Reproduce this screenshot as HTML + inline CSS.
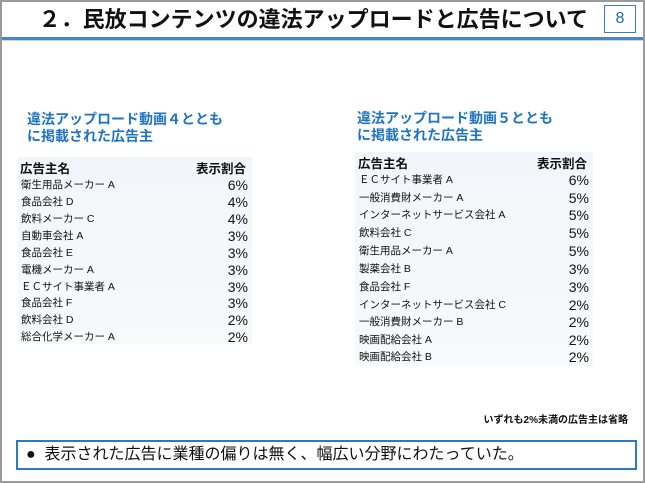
<!DOCTYPE html>
<html><head><meta charset="utf-8"><style>
body{margin:0;width:645px;height:483px;overflow:hidden;background:#fff;font-family:"Liberation Sans","Noto Sans CJK JP",sans-serif;position:relative}
.frame{position:absolute;left:0;top:0;width:641px;height:479px;border:2px solid #9a9a9a}
.title{position:absolute;left:0;top:6px;width:588px;text-align:right;font-size:22px;font-weight:bold;color:#111;line-height:28px}
.num{position:absolute;left:604px;top:5px;width:30px;height:26px;border:1.5px solid #3a7ec0;color:#2565a8;font-size:16px;text-align:center;line-height:26px}
.hl{position:absolute;left:2px;top:37px;width:641px;height:3px;background:#4a86bf}
.hl2{position:absolute;left:2px;top:40px;width:641px;height:1px;background:#c8d8e8}
.h{position:absolute;color:#1f73c4;font-weight:bold;font-size:14px;line-height:17px}
.tb{position:absolute;background:linear-gradient(#f2f6fa,#f7f9fb)}
.r{position:absolute;left:0;right:0;font-size:10.5px;color:#111}
.r span{position:absolute;right:4px;font-size:14px}
.r.hd{font-weight:bold;font-size:12.5px}
.r.hd span{font-size:12.5px;right:6px}
.note{position:absolute;right:17px;top:411px;font-size:10px;font-weight:bold;color:#111}
.box{position:absolute;left:16px;top:440px;width:609px;height:26px;border:2px solid #2b7bc4;font-size:16px;line-height:26px;color:#111;padding-left:8px}
</style></head><body>
<div class="frame"></div>
<div class="title">２．民放コンテンツの違法アップロードと広告について</div>
<div class="num">8</div>
<div class="hl"></div><div class="hl2"></div>
<div class="h" style="left:27px;top:111px">違法アップロード動画４ととも<br>に掲載された広告主</div>
<div class="h" style="left:357px;top:110px">違法アップロード動画５ととも<br>に掲載された広告主</div>
<div class="tb" style="left:18px;top:157px;width:234px;height:187px">
<div class="r hd" style="top:1px;left:2px">広告主名<span>表示割合</span></div>
<div class="r" style="top:20px;left:3px">衛生用品メーカー A<span>6%</span></div>
<div class="r" style="top:37px;left:3px">食品会社 D<span>4%</span></div>
<div class="r" style="top:54px;left:3px">飲料メーカー C<span>4%</span></div>
<div class="r" style="top:71px;left:3px">自動車会社 A<span>3%</span></div>
<div class="r" style="top:88px;left:3px">食品会社 E<span>3%</span></div>
<div class="r" style="top:105px;left:3px">電機メーカー A<span>3%</span></div>
<div class="r" style="top:122px;left:3px">ＥＣサイト事業者 A<span>3%</span></div>
<div class="r" style="top:138px;left:3px">食品会社 F<span>3%</span></div>
<div class="r" style="top:155px;left:3px">飲料会社 D<span>2%</span></div>
<div class="r" style="top:172px;left:3px">総合化学メーカー A<span>2%</span></div>
</div>
<div class="tb" style="left:355px;top:152px;width:238px;height:214px">
<div class="r hd" style="top:1px;left:3px">広告主名<span>表示割合</span></div>
<div class="r" style="top:20px;left:4px">ＥＣサイト事業者 A<span>6%</span></div>
<div class="r" style="top:38px;left:4px">一般消費財メーカー A<span>5%</span></div>
<div class="r" style="top:55px;left:4px">インターネットサービス会社 A<span>5%</span></div>
<div class="r" style="top:73px;left:4px">飲料会社 C<span>5%</span></div>
<div class="r" style="top:91px;left:4px">衛生用品メーカー A<span>5%</span></div>
<div class="r" style="top:109px;left:4px">製薬会社 B<span>3%</span></div>
<div class="r" style="top:127px;left:4px">食品会社 F<span>3%</span></div>
<div class="r" style="top:145px;left:4px">インターネットサービス会社 C<span>2%</span></div>
<div class="r" style="top:162px;left:4px">一般消費財メーカー B<span>2%</span></div>
<div class="r" style="top:180px;left:4px">映画配給会社 A<span>2%</span></div>
<div class="r" style="top:197px;left:4px">映画配給会社 B<span>2%</span></div>
</div>
<div class="note">いずれも2%未満の広告主は省略</div>
<div class="box">●&nbsp;&nbsp;表示された広告に業種の偏りは無く、幅広い分野にわたっていた。</div>
</body></html>
